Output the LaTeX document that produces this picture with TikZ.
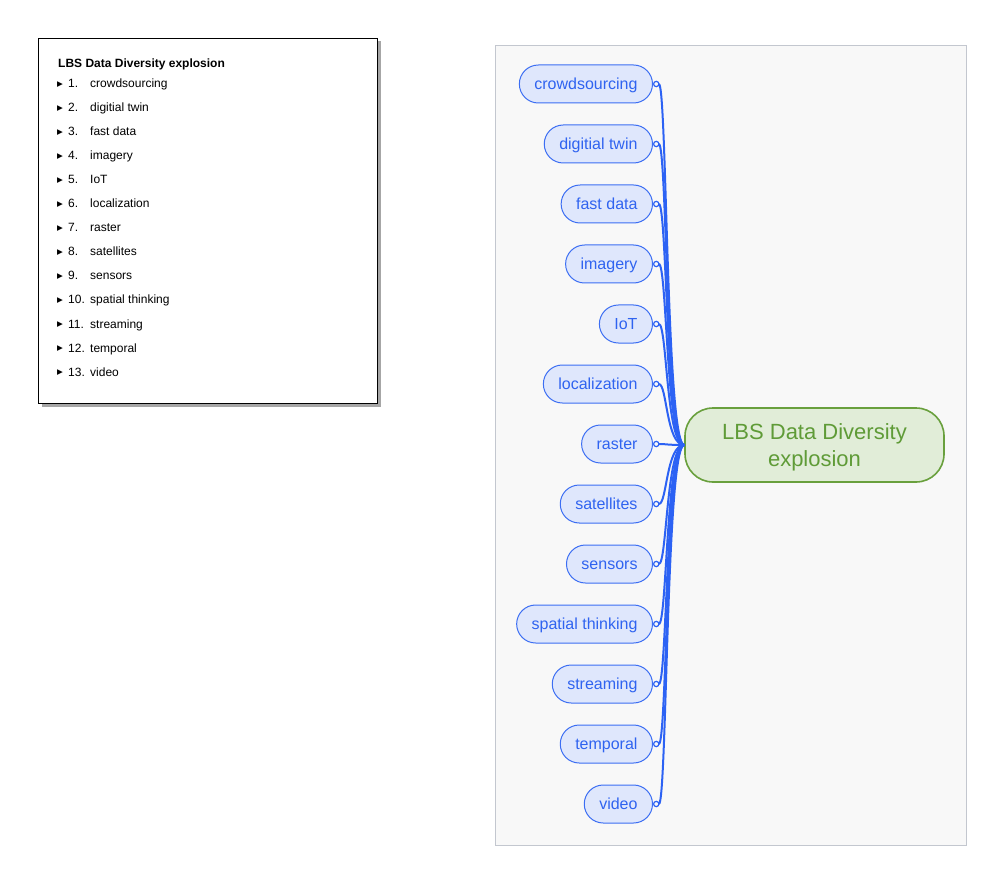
\documentclass[tikz,border=0pt]{standalone}
\usepackage{fontspec}
\setmainfont{Liberation Sans}
\newfontfamily\bulfont{DejaVu Sans}
\usetikzlibrary{arrows.meta,positioning,shadows}

\definecolor{topictext}{HTML}{2F63F0}
\definecolor{topicedge}{HTML}{3C6EF3}
\definecolor{topicfill}{HTML}{DFE7FC}
\definecolor{linkblue}{HTML}{2C62F4}
\definecolor{ideatext}{HTML}{5F9B37}
\definecolor{ideaedge}{HTML}{69A03D}
\definecolor{ideafill}{HTML}{E1EDD8}
\definecolor{panelfill}{HTML}{F8F8F8}
\definecolor{paneledge}{HTML}{C3C7CF}

% one line of the outline: bullet, number, text
\newcommand{\itm}[2]{\makebox[11pt][l]{\raisebox{1.3pt}{\bulfont\fontsize{7.5}{7.5}\selectfont ▶}}\makebox[22pt][l]{#1.}#2}

\begin{document}
\begin{tikzpicture}[x=1pt,y=-1pt,auto]

\tikzstyle{entry}=[inner sep=0pt,text height=9pt,text depth=3pt,font=\fontsize{12}{14}\selectfont]
\tikzstyle{topic}=[draw=topicedge,fill=topicfill,text=topictext,line width=1pt,rounded corners=19pt,minimum height=38pt,inner xsep=15pt,text height=13pt,text depth=2pt,font=\fontsize{16}{19}\selectfont]
\tikzstyle{idea}=[draw=ideaedge,fill=ideafill,text=ideatext,line width=1.6pt,rounded corners=28pt,minimum width=259pt,minimum height=74pt,align=center,text depth=0pt,font=\fontsize{22}{27.5}\selectfont]
\tikzstyle{link}=[{Circle[open,length=6.5pt,width=6.5pt,line width=1.2pt]}-,draw=linkblue,line width=2pt,out=0,in=180,out distance=14pt,in distance=18pt]

\useasboundingbox (0,0) rectangle (1003,882);

%outline on the left
\node [draw=black,fill=white,line width=1pt,minimum width=339pt,minimum height=365pt,inner sep=0pt,anchor=north west,
       drop shadow={shadow xshift=3pt,shadow yshift=-3pt,fill=black,opacity=0.35}] (outline) at (38,38) {};

\node [entry,anchor=west,font=\bfseries\fontsize{12}{14}\selectfont] (title) at (58,65) {LBS Data Diversity explosion};

\node [entry,anchor=west] (i1) at (57,85) {\itm{1}{crowdsourcing}};
\node [entry,below=24pt of i1.west,anchor=west] (i2) {\itm{2}{digitial twin}};
\node [entry,below=24pt of i2.west,anchor=west] (i3) {\itm{3}{fast data}};
\node [entry,below=24pt of i3.west,anchor=west] (i4) {\itm{4}{imagery}};
\node [entry,below=24pt of i4.west,anchor=west] (i5) {\itm{5}{IoT}};
\node [entry,below=24pt of i5.west,anchor=west] (i6) {\itm{6}{localization}};
\node [entry,below=24pt of i6.west,anchor=west] (i7) {\itm{7}{raster}};
\node [entry,below=24pt of i7.west,anchor=west] (i8) {\itm{8}{satellites}};
\node [entry,below=24pt of i8.west,anchor=west] (i9) {\itm{9}{sensors}};
\node [entry,below=24pt of i9.west,anchor=west] (i10) {\itm{10}{spatial thinking}};
\node [entry,below=24pt of i10.west,anchor=west] (i11) {\itm{11}{streaming}};
\node [entry,below=24pt of i11.west,anchor=west] (i12) {\itm{12}{temporal}};
\node [entry,below=24pt of i12.west,anchor=west] (i13) {\itm{13}{video}};

%map on the right
\draw [draw=paneledge,fill=panelfill,line width=0.8pt] (495,45) rectangle (966,845);

\node [idea] (main) at (814.5,445) {LBS Data Diversity\\explosion};

\node [topic,anchor=east] (crowd) at (653,84) {crowdsourcing};
\node [topic,below=60pt of crowd.east,anchor=east] (twin) {digitial twin};
\node [topic,below=60pt of twin.east,anchor=east] (fast) {fast data};
\node [topic,below=60pt of fast.east,anchor=east] (imagery) {imagery};
\node [topic,below=60pt of imagery.east,anchor=east] (iot) {IoT};
\node [topic,below=60pt of iot.east,anchor=east] (local) {localization};
\node [topic,below=60pt of local.east,anchor=east] (raster) {raster};
\node [topic,below=60pt of raster.east,anchor=east] (sat) {satellites};
\node [topic,below=60pt of sat.east,anchor=east] (sensors) {sensors};
\node [topic,below=60pt of sensors.east,anchor=east] (spatial) {spatial thinking};
\node [topic,below=60pt of spatial.east,anchor=east] (stream) {streaming};
\node [topic,below=60pt of stream.east,anchor=east] (temp) {temporal};
\node [topic,below=60pt of temp.east,anchor=east] (video) {video};

\path (crowd) edge [link] (main)
      (twin) edge [link] (main)
      (fast) edge [link] (main)
      (imagery) edge [link] (main)
      (iot) edge [link] (main)
      (local) edge [link] (main)
      (raster) edge [link] (main)
      (sat) edge [link] (main)
      (sensors) edge [link] (main)
      (spatial) edge [link] (main)
      (stream) edge [link] (main)
      (temp) edge [link] (main)
      (video) edge [link] (main);

\end{tikzpicture}
\end{document}
